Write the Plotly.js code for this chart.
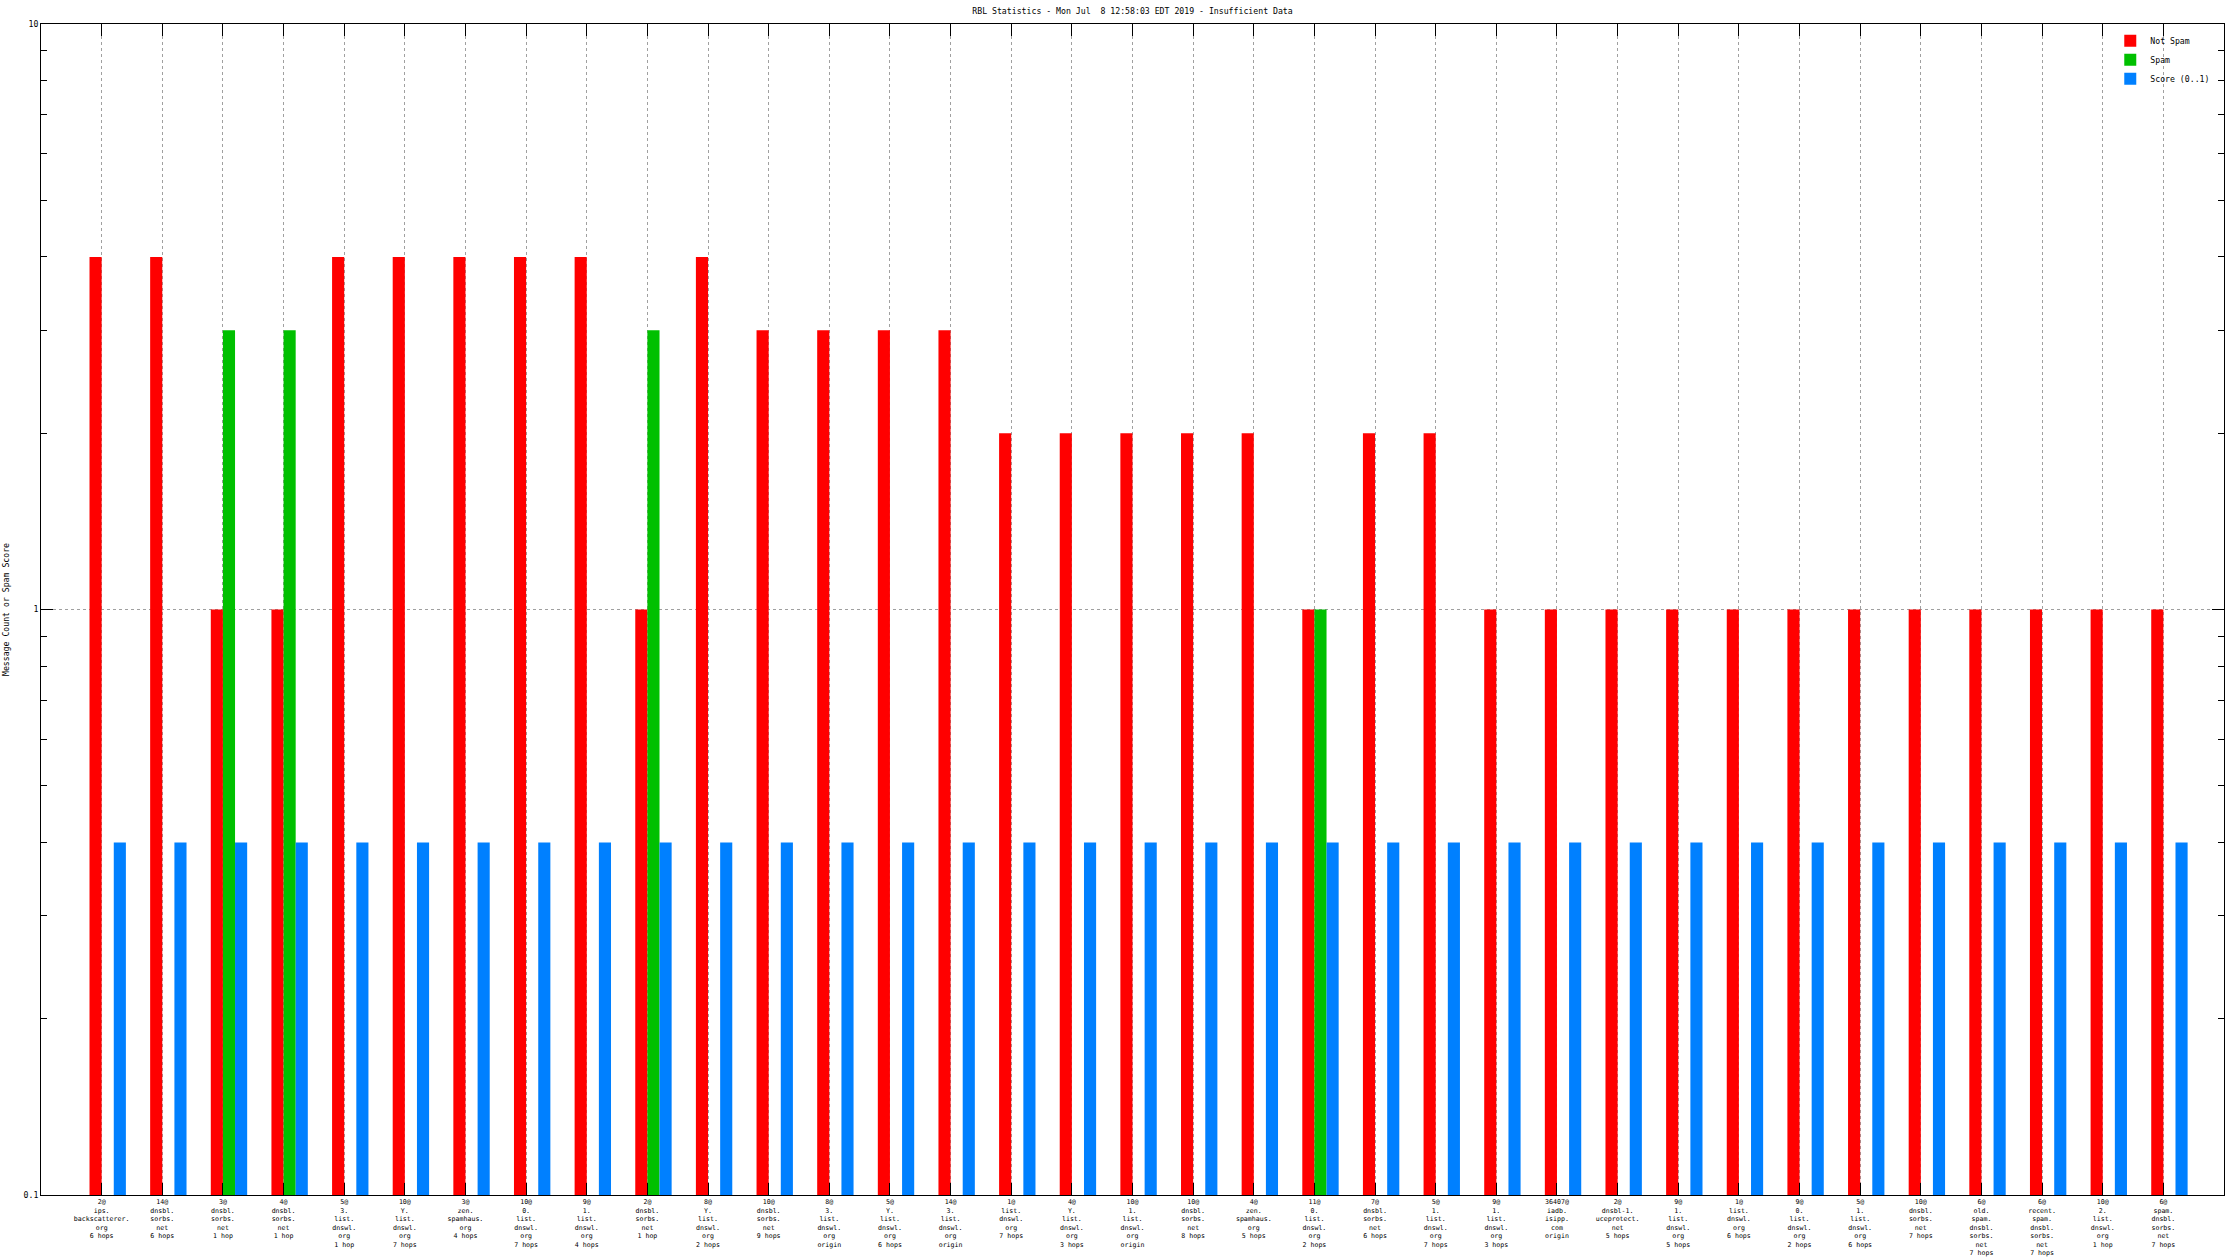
<!DOCTYPE html>
<html>
<head>
<meta charset="utf-8">
<script src="https://cdn.plot.ly/plotly-3.0.1.min.js"></script>
<style>
  html, body { margin: 0; padding: 0; background: #fff; }
  #chart { width: 2240px; height: 1260px; }
</style>
</head>
<body>
<div id="chart"></div>
<script>
const categories = [
  "2@<br>ips.<br>backscatterer.<br>org<br>6 hops",
  "14@<br>dnsbl.<br>sorbs.<br>net<br>6 hops",
  "3@<br>dnsbl.<br>sorbs.<br>net<br>1 hop",
  "4@<br>dnsbl.<br>sorbs.<br>net<br>1 hop",
  "5@<br>3.<br>list.<br>dnswl.<br>org<br>1 hop",
  "10@<br>Y.<br>list.<br>dnswl.<br>org<br>7 hops",
  "3@<br>zen.<br>spamhaus.<br>org<br>4 hops",
  "10@<br>0.<br>list.<br>dnswl.<br>org<br>7 hops",
  "9@<br>1.<br>list.<br>dnswl.<br>org<br>4 hops",
  "2@<br>dnsbl.<br>sorbs.<br>net<br>1 hop",
  "8@<br>Y.<br>list.<br>dnswl.<br>org<br>2 hops",
  "10@<br>dnsbl.<br>sorbs.<br>net<br>9 hops",
  "8@<br>3.<br>list.<br>dnswl.<br>org<br>origin",
  "5@<br>Y.<br>list.<br>dnswl.<br>org<br>6 hops",
  "14@<br>3.<br>list.<br>dnswl.<br>org<br>origin",
  "1@<br>list.<br>dnswl.<br>org<br>7 hops",
  "4@<br>Y.<br>list.<br>dnswl.<br>org<br>3 hops",
  "10@<br>1.<br>list.<br>dnswl.<br>org<br>origin",
  "10@<br>dnsbl.<br>sorbs.<br>net<br>8 hops",
  "4@<br>zen.<br>spamhaus.<br>org<br>5 hops",
  "11@<br>0.<br>list.<br>dnswl.<br>org<br>2 hops",
  "7@<br>dnsbl.<br>sorbs.<br>net<br>6 hops",
  "5@<br>1.<br>list.<br>dnswl.<br>org<br>7 hops",
  "9@<br>1.<br>list.<br>dnswl.<br>org<br>3 hops",
  "36407@<br>iadb.<br>isipp.<br>com<br>origin",
  "2@<br>dnsbl-1.<br>uceprotect.<br>net<br>5 hops",
  "9@<br>1.<br>list.<br>dnswl.<br>org<br>5 hops",
  "1@<br>list.<br>dnswl.<br>org<br>6 hops",
  "9@<br>0.<br>list.<br>dnswl.<br>org<br>2 hops",
  "5@<br>1.<br>list.<br>dnswl.<br>org<br>6 hops",
  "10@<br>dnsbl.<br>sorbs.<br>net<br>7 hops",
  "6@<br>old.<br>spam.<br>dnsbl.<br>sorbs.<br>net<br>7 hops",
  "6@<br>recent.<br>spam.<br>dnsbl.<br>sorbs.<br>net<br>7 hops",
  "10@<br>2.<br>list.<br>dnswl.<br>org<br>1 hop",
  "6@<br>spam.<br>dnsbl.<br>sorbs.<br>net<br>7 hops"
];

const notSpam = [4, 4, 1, 1, 4, 4, 4, 4, 4, 1, 4, 3, 3, 3, 3, 2, 2, 2, 2, 2, 1, 2, 2, 1, 1, 1, 1, 1, 1, 1, 1, 1, 1, 1, 1];
const spam    = [null, null, 3, 3, null, null, null, null, null, 3, null, null, null, null, null, null, null, null, null, null, 1, null, null, null, null, null, null, null, null, null, null, null, null, null, null];
const score   = [0.4, 0.4, 0.4, 0.4, 0.4, 0.4, 0.4, 0.4, 0.4, 0.4, 0.4, 0.4, 0.4, 0.4, 0.4, 0.4, 0.4, 0.4, 0.4, 0.4, 0.4, 0.4, 0.4, 0.4, 0.4, 0.4, 0.4, 0.4, 0.4, 0.4, 0.4, 0.4, 0.4, 0.4, 0.4];

const yTickVals = [0.1, 1, 10];
const yTickText = ["0.1", "1", "10"];
const yMinorVals = [0.2, 0.3, 0.4, 0.5, 0.6, 0.7, 0.8, 0.9, 2, 3, 4, 5, 6, 7, 8, 9];

const xIdx = categories.map((_, i) => i);
const FONT = "DejaVu Sans Mono, monospace";

const traces = [
  { type: "bar", name: "Not Spam", x: xIdx, y: notSpam, width: 0.2, offset: -0.2,
    marker: { color: "#ff0000", line: { width: 0 } } },
  { type: "bar", name: "Spam", x: xIdx, y: spam, width: 0.2, offset: 0,
    marker: { color: "#00c000", line: { width: 0 } } },
  { type: "bar", name: "Score (0..1)", x: xIdx, y: score, width: 0.2, offset: 0.2,
    marker: { color: "#0080ff", line: { width: 0 } } }
];

const layout = {
  width: 2240, height: 1260,
  paper_bgcolor: "#ffffff", plot_bgcolor: "#ffffff",
  margin: { l: 40.5, r: 16, t: 24, b: 65, pad: 0 },
  font: { family: FONT, size: 8, color: "#000" },
  barmode: "overlay",
  showlegend: true,
  title: {
    text: "RBL Statistics - Mon Jul\u00A0 8 12:58:03 EDT 2019 - Insufficient Data",
    x: 0.5, xref: "paper", xanchor: "center",
    y: 1 - 11 / 1260, yref: "container", yanchor: "middle",
    font: { family: FONT, size: 8.2, color: "#000" }
  },
  legend: {
    x: 0.996, xanchor: "right", y: 0.998, yanchor: "top",
    bgcolor: "rgba(0,0,0,0)", borderwidth: 0,
    font: { family: FONT, size: 8.2, color: "#000" },
    traceorder: "normal"
  },
  xaxis: {
    type: "linear", range: [-1, 35],
    tickmode: "array", tickvals: xIdx, ticktext: categories,
    ticks: "inside", ticklen: 12, tickwidth: 1, tickcolor: "#000",
    showline: true, linecolor: "#000", linewidth: 1, mirror: "ticks",
    showgrid: true, gridcolor: "#a0a0a0", gridwidth: 1, griddash: "dot",
    zeroline: false, tickangle: 0, ticklabelstandoff: 0,
    tickfont: { family: FONT, size: 6.6, color: "#000" }
  },
  yaxis: {
    type: "log", range: [-1, 1],
    tickmode: "array", tickvals: yTickVals, ticktext: yTickText,
    ticks: "inside", ticklen: 12, tickwidth: 1, tickcolor: "#000",
    minor: { tickmode: "array", tickvals: yMinorVals, ticks: "inside", ticklen: 6, tickcolor: "#000", showgrid: false },
    showline: true, linecolor: "#000", linewidth: 1, mirror: "ticks",
    showgrid: true, gridcolor: "#a0a0a0", gridwidth: 1, griddash: "dot",
    zeroline: false,
    tickfont: { family: FONT, size: 8.2, color: "#000" },
    title: { text: "Message Count or Spam Score", font: { family: FONT, size: 8.2, color: "#000" }, standoff: 12 }
  }
};

Plotly.newPlot("chart", traces, layout, { displayModeBar: false, staticPlot: true });
</script>
</body>
</html>
